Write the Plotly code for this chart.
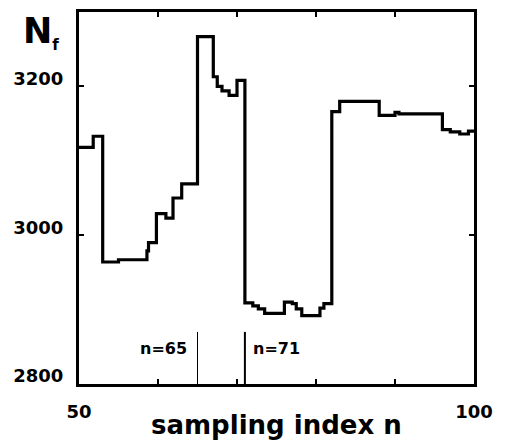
import plotly.graph_objects as go

# Step positions (sampling index n) and N_f values
n_steps = [50, 51.8, 53, 55, 58.6, 58.8, 59.8, 61, 61.9, 63, 65, 67, 67.5, 68.1, 69, 70,
           71, 72, 72.7, 73.5, 76, 77, 77.5, 78.2, 80.5, 81, 82, 83, 88, 90, 90.5,
           96, 97, 98.2, 99.3, 100]
nf_values = [3118, 3133, 2964, 2967, 2979, 2990, 3029, 3023, 3050, 3069, 3267, 3213, 3200, 3194, 3188, 3208,
             2909, 2905, 2901, 2895, 2910, 2908, 2901, 2892, 2902, 2908, 3166, 3180, 3161, 3165, 3163,
             3142, 3139, 3136, 3140, 3140]

x_tickvals = [50, 100]
x_ticktext = ["50", "100"]
x_minor_step = 10
y_tickvals = [2800, 3000, 3200]
y_ticktext = ["2800", "3000", "3200"]

marker_n = [65, 71]
marker_labels = ["n=65", "n=71"]
marker_widths = [1, 2]
marker_top = 2870

x_range = [50, 100]
y_range = [2800, 3300]

FONT = "DejaVu Sans"

fig = go.Figure()
fig.add_trace(go.Scatter(x=n_steps, y=nf_values, mode="lines",
                         line=dict(shape="hv", color="black", width=3.2),
                         showlegend=False, hoverinfo="skip"))

for n, lab, w in zip(marker_n, marker_labels, marker_widths):
    fig.add_shape(type="line", x0=n, x1=n, y0=y_range[0], y1=marker_top,
                  xref="x", yref="y", line=dict(color="black", width=w))
    left = n < 70
    fig.add_annotation(x=n, y=2848, xref="x", yref="y", text=lab, showarrow=False,
                       xanchor="right" if left else "left",
                       xshift=-9 if left else 6,
                       font=dict(family=FONT, size=16, color="black", weight="bold"))

fig.add_annotation(x=-0.147, y=0.945, xref="paper", yref="paper",
                   text="N<sub><span style='font-size:15px'>f</span></sub>",
                   showarrow=False, xanchor="left", yanchor="middle",
                   font=dict(family=FONT, size=35, color="black", weight="bold"))
fig.add_annotation(x=0.5, y=-0.11, xref="paper", yref="paper", text="sampling index n",
                   showarrow=False, xanchor="center", yanchor="middle",
                   font=dict(family=FONT, size=26, color="black", weight="bold"))

axis_common = dict(showline=True, linewidth=3, linecolor="black", mirror="ticks",
                   ticks="inside", ticklen=5, tickwidth=2, tickcolor="black",
                   showgrid=False, zeroline=False,
                   tickfont=dict(family=FONT, size=18, color="black", weight="bold"))

fig.update_xaxes(range=x_range, tickvals=x_tickvals, ticktext=x_ticktext,
                 minor=dict(ticks="inside", tick0=x_range[0], dtick=x_minor_step,
                            ticklen=5, tickwidth=2, tickcolor="black", showgrid=False),
                 ticklabelstandoff=9, **axis_common)
fig.update_yaxes(range=y_range, tickvals=y_tickvals, ticktext=y_ticktext,
                 ticklabelstandoff=9, ticklabelshift=-8, **axis_common)

fig.update_layout(width=507, height=441, margin=dict(l=79, r=33, t=9, b=57),
                  paper_bgcolor="white", plot_bgcolor="white")

fig.write_html("out.html")
